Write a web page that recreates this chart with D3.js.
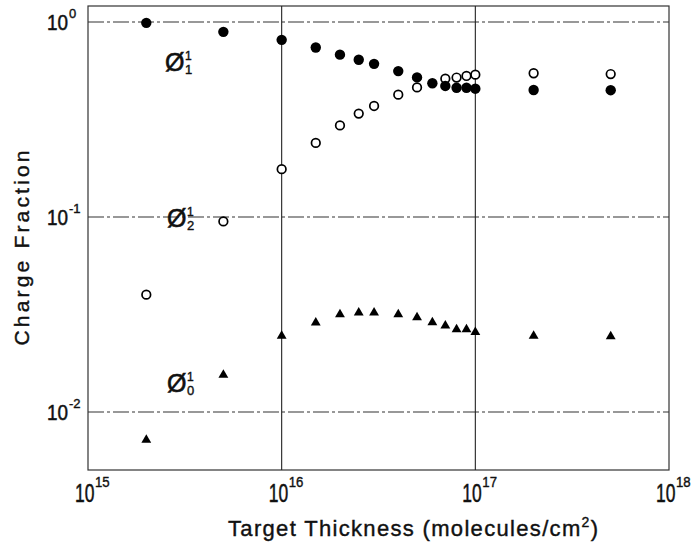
<!DOCTYPE html>
<html>
<head>
<meta charset="utf-8">
<script src="https://cdn.jsdelivr.net/npm/d3@7"></script>
<style>
  html, body { margin: 0; padding: 0; background: #fff; }
  svg { display: block; font-family: "Liberation Sans", Arial, sans-serif; }
</style>
</head>
<body>
<svg id="chart" width="692" height="545"></svg>
<script>
// ── data ─────────────────────────────────────────────────
const thickness = [2e15, 5e15, 1e16, 1.5e16, 2e16, 2.5e16, 3e16, 4e16, 5e16, 6e16, 7e16, 8e16, 9e16, 1e17, 2e17, 5e17];

// φ1 (filled circles)
const phi1 = [0.99, 0.89, 0.81, 0.74, 0.68, 0.64, 0.61, 0.56, 0.52, 0.485, 0.47, 0.46, 0.46, 0.455, 0.448, 0.447];
// φ2 (open circles), null = hidden behind a filled one
const phi2 = [0.040, 0.095, 0.176, 0.24, 0.295, 0.339, 0.371, 0.424, 0.462, null, 0.512, 0.519, 0.529, 0.537, 0.546, 0.541];
// φ0 (triangles)
const phi0 = [0.0072, 0.0155, 0.0246, 0.0287, 0.0317, 0.0323, 0.0323, 0.0317, 0.0306, 0.0288, 0.0277, 0.0265, 0.0265, 0.0257, 0.0246, 0.0244];

const xTicks = [15, 16, 17, 18];      // exponents of 10
const yTicks = [0, -1, -2];
const xGrid = [1e16, 1e17];
const yGrid = [1, 1e-1, 1e-2];

// curve labels: [subscript, x, y]
const labels = [["1", 2.5e15, 0.56], ["2", 2.56e15, 0.0889], ["0", 2.56e15, 0.01267]];

// ── layout ─────────────────────────────────────────────
const X0 = 88, X1 = 669, Y0 = 470, Y1 = 6;
const svg = d3.select("#chart");

const x = d3.scaleLog().domain([1e15, 1e18]).range([X0, X1]);
const y = d3.scaleLog().domain([Math.pow(10, -2.297), Math.pow(10, 0.082)]).range([Y0, Y1]);

// frame
svg.append("rect")
  .attr("x", X0).attr("y", Y1).attr("width", X1 - X0).attr("height", Y0 - Y1)
  .attr("fill", "none").attr("stroke", "#333").attr("stroke-width", 1.2);

// grid lines
svg.append("g").selectAll("line").data(yGrid).join("line")
  .attr("x1", X0).attr("x2", X1)
  .attr("y1", d => y(d)).attr("y2", d => y(d))
  .attr("stroke", "#333").attr("stroke-width", 1.1)
  .attr("stroke-dasharray", "16,3,3,3");

svg.append("g").selectAll("line").data(xGrid).join("line")
  .attr("x1", d => x(d)).attr("x2", d => x(d))
  .attr("y1", Y1).attr("y2", Y0)
  .attr("stroke", "#222").attr("stroke-width", 1.1);

// tick labels  10^n  (base and exponent as separate texts, narrow lettering)
const tk = svg.append("g").attr("fill", "#111").attr("stroke", "#111");

tk.selectAll(".yb").data(yTicks).join("text").attr("class", "yb")
  .attr("transform", d => `translate(68,${y(Math.pow(10, d)) + 8}) scale(0.86,1)`)
  .attr("text-anchor", "end").attr("font-size", 22).attr("stroke-width", 0.5)
  .text("10");
tk.selectAll(".ye").data(yTicks).join("text").attr("class", "ye")
  .attr("x", 69).attr("y", d => y(Math.pow(10, d)) - 4)
  .attr("font-size", 13).attr("stroke-width", 0.4)
  .text(d => d === 0 ? "0" : "-" + Math.abs(d));

tk.selectAll(".xb").data(xTicks).join("text").attr("class", "xb")
  .attr("transform", d => `translate(${x(Math.pow(10, d)) - 13},502) scale(0.7,1)`)
  .attr("font-size", 25).attr("stroke-width", 0.5)
  .text("10");
tk.selectAll(".xe").data(xTicks).join("text").attr("class", "xe")
  .attr("transform", d => `translate(${x(Math.pow(10, d)) + 7},487) scale(0.88,1)`)
  .attr("font-size", 15).attr("stroke-width", 0.4)
  .text(d => d);

// axis titles
svg.append("text")
  .attr("transform", "translate(29,248) rotate(-90)")
  .attr("text-anchor", "middle").attr("font-size", 21).attr("fill", "#111")
  .attr("stroke", "#111").attr("stroke-width", 0.4)
  .attr("textLength", 195).attr("lengthAdjust", "spacing")
  .text("Charge  Fraction");

const xt = svg.append("text")
  .attr("x", 228).attr("y", 536).attr("font-size", 22).attr("fill", "#111")
  .attr("stroke", "#111").attr("stroke-width", 0.4)
  .attr("textLength", 370).attr("lengthAdjust", "spacing");
xt.append("tspan").text("Target  Thickness  (molecules/cm");
xt.append("tspan").attr("dy", -9).attr("font-size", 14).text("2");
xt.append("tspan").attr("dy", 9).text(")");

// ── points ─────────────────────────────────────────────
const pts = (vals) => thickness.map((t, i) => [t, vals[i]]).filter(d => d[1] != null);

svg.append("g").selectAll("circle").data(pts(phi2)).join("circle")
  .attr("cx", d => x(d[0])).attr("cy", d => y(d[1])).attr("r", 4.3)
  .attr("fill", "#fff").attr("stroke", "#000").attr("stroke-width", 1.7);

svg.append("g").selectAll("circle").data(pts(phi1)).join("circle")
  .attr("cx", d => x(d[0])).attr("cy", d => y(d[1])).attr("r", 5.2)
  .attr("fill", "#000");

const tri = d3.symbol().type(d3.symbolTriangle).size(42);
svg.append("g").selectAll("path").data(pts(phi0)).join("path")
  .attr("transform", d => `translate(${x(d[0])},${y(d[1])})`)
  .attr("d", tri).attr("fill", "#000");

// ── curve labels  Ø with super/subscripts ────────────────
const lg = svg.append("g").selectAll("g").data(labels).join("g")
  .attr("transform", d => `translate(${x(d[1])},${y(d[2])})`)
  .attr("fill", "#111").attr("stroke", "#111");
lg.append("text").attr("font-size", 25).attr("stroke-width", 0.6).text("Ø");
lg.append("text").attr("x", 20).attr("y", -11).attr("font-size", 12).attr("stroke-width", 0.4).text("1");
lg.append("text").attr("x", 20).attr("y", 3).attr("font-size", 13).attr("stroke-width", 0.4).text(d => d[0]);
</script>
</body>
</html>
